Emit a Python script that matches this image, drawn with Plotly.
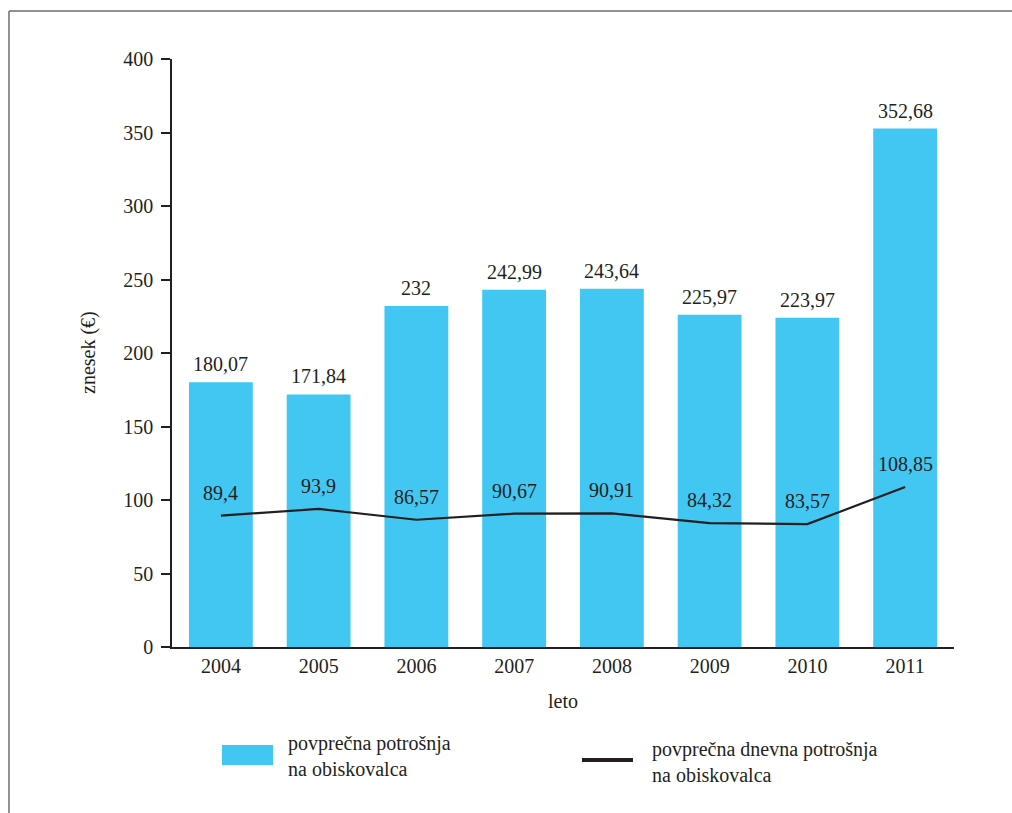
import plotly.graph_objects as go

# Tourism spending per visitor, 2004-2011
years = ["2004", "2005", "2006", "2007", "2008", "2009", "2010", "2011"]
avg_spending = [180.07, 171.84, 232, 242.99, 243.64, 225.97, 223.97, 352.68]
avg_daily_spending = [89.4, 93.9, 86.57, 90.67, 90.91, 84.32, 83.57, 108.85]
y_ticks = [0, 50, 100, 150, 200, 250, 300, 350, 400]

BAR_COLOR = "#42C7F3"
INK = "#231F20"
FONT = "Liberation Serif"
FS = 20

# plot area geometry (pixels)
W, H = 1012, 813
L, R, T, B = 172, 58, 59, 166
PW, PH = W - L - R, H - T - B


def px(x):
    return (x - L) / PW


def py(y):
    return (H - B - y) / PH


def fmt(v):
    s = f"{v:.2f}".rstrip("0").rstrip(".")
    return s.replace(".", ",")


fig = go.Figure()
fig.add_trace(go.Bar(
    x=years, y=avg_spending, marker_color=BAR_COLOR, marker_line_width=0,
    name="povprečna potrošnja na obiskovalca", showlegend=False,
))
fig.add_trace(go.Scatter(
    x=years, y=avg_daily_spending, mode="lines",
    line=dict(color=INK, width=2.2),
    name="povprečna dnevna potrošnja na obiskovalca", showlegend=False,
))

annotations = []
# value labels (category axis positions are given by index)
for i, v in enumerate(avg_spending):
    annotations.append(dict(x=i, y=v, xref="x", yref="y", text=fmt(v),
                            showarrow=False, yanchor="bottom", yshift=5,
                            font=dict(family=FONT, size=FS, color=INK)))
for i, v in enumerate(avg_daily_spending):
    annotations.append(dict(x=i, y=v, xref="x", yref="y", text=fmt(v),
                            showarrow=False, yanchor="bottom", yshift=10,
                            font=dict(family=FONT, size=FS, color=INK)))

# y-axis title
annotations.append(dict(x=px(88), y=py(353), xref="paper", yref="paper",
                        xanchor="center", yanchor="middle",
                        text="znesek (€)", textangle=-90, showarrow=False,
                        font=dict(family=FONT, size=FS, color=INK)))

# legend entries
annotations.append(dict(x=px(286), y=py(756), xref="paper", yref="paper",
                        text="povprečna potrošnja<br>na obiskovalca",
                        showarrow=False, xanchor="left", yanchor="middle", align="left",
                        font=dict(family=FONT, size=FS, color=INK)))
annotations.append(dict(x=px(650), y=py(762), xref="paper", yref="paper",
                        text="povprečna dnevna potrošnja<br>na obiskovalca",
                        showarrow=False, xanchor="left", yanchor="middle", align="left",
                        font=dict(family=FONT, size=FS, color=INK)))

shapes = [
    # legend swatches
    dict(type="rect", xref="paper", yref="paper", x0=px(222), x1=px(273),
         y0=py(745), y1=py(765), fillcolor=BAR_COLOR, line_width=0),
    dict(type="line", xref="paper", yref="paper", x0=px(582), x1=px(633),
         y0=py(760), y1=py(760), line=dict(color=INK, width=4)),
    # page frame
    dict(type="line", xref="paper", yref="paper", x0=px(9), x1=px(1012),
         y0=py(11), y1=py(11), line=dict(color="#6d6d6d", width=1.5)),
    dict(type="line", xref="paper", yref="paper", x0=px(9), x1=px(9),
         y0=py(11), y1=py(813), line=dict(color="#6d6d6d", width=1.5)),
]

fig.update_layout(
    width=W, height=H,
    margin=dict(l=L, r=R, t=T, b=B),
    paper_bgcolor="white", plot_bgcolor="white",
    bargap=0.347,
    font=dict(family=FONT, size=FS, color=INK),
    annotations=annotations, shapes=shapes,
    xaxis=dict(
        type="category", range=[-0.5, 7.5], showgrid=False,
        showline=True, linecolor=INK, linewidth=1.5, ticks="",
        tickfont=dict(family=FONT, size=FS, color=INK),
        title=dict(text="leto", font=dict(family=FONT, size=FS, color=INK), standoff=18),
    ),
    yaxis=dict(
        range=[0, 400], tickvals=y_ticks, showgrid=False, zeroline=False,
        showline=True, linecolor=INK, linewidth=1.5,
        ticks="outside", ticklen=9, tickwidth=1.5, tickcolor=INK,
        ticklabelstandoff=4,
        tickfont=dict(family=FONT, size=FS, color=INK),
    ),
)

fig.write_html("out.html")
